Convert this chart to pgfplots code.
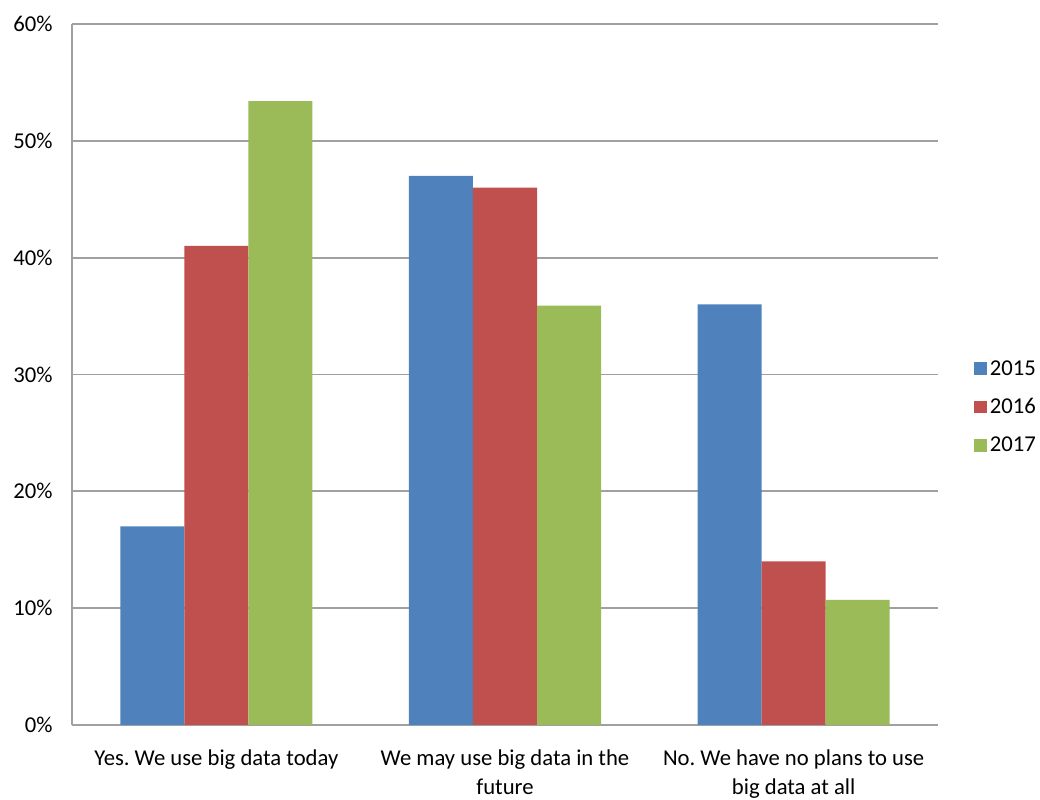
\documentclass[border=0pt]{standalone}
\usepackage{fontspec}
\setmainfont{Carlito}
\usepackage{pgfplots}
\pgfplotsset{compat=1.18}
\definecolor{c15}{HTML}{4F81BD}
\definecolor{c16}{HTML}{C0504D}
\definecolor{c17}{HTML}{9BBB59}
\definecolor{gridc}{HTML}{A0A0A0}
\frenchspacing
\begin{document}
\begin{tikzpicture}
\path[use as bounding box] (-54pt,-56.25pt) rectangle (726pt,543.75pt);
\begin{axis}[
  scale only axis,
  width=649.5pt, height=525.75pt,
  ybar=0pt, bar width=48pt,
  xmin=0.5, xmax=3.5,
  ymin=0, ymax=60,
  xtick={1,2,3},
  xticklabels={Yes. We use big data today, We may use big data in the\\future, No. We have no plans to use\\big data at all},
  x tick label style={align=center, font=\fontsize{17}{22}\selectfont, yshift=-15pt},
  ytick={0,10,...,60},
  yticklabel={\pgfmathprintnumber{\tick}\%},
  y tick label style={font=\fontsize{17}{20}\selectfont, xshift=-11pt},
  /pgf/number format/assume math mode=true,
  major tick length=0pt,
  axis x line*=bottom, axis y line*=left,
  axis line style={gridc, line width=1.3pt, -},
  ymajorgrids, grid style={gridc, line width=1.3pt},
  legend style={draw=none, at={(1.037,0.4536)}, anchor=west,
    font=\fontsize{17}{20}\selectfont, row sep=12pt, fill=none},
  legend cell align=left,
  legend image code/.code={\fill[#1] (0pt,-4.8pt) rectangle (9.6pt,4.8pt);},
]
\addplot[fill=c15, draw=none] coordinates {(1,17.0) (2,47.0) (3,36.0)};
\addplot[fill=c16, draw=none] coordinates {(1,41.0) (2,46.0) (3,14.0)};
\addplot[fill=c17, draw=none] coordinates {(1,53.4) (2,35.9) (3,10.7)};
\legend{2015,2016,2017}
\end{axis}
\end{tikzpicture}
\end{document}
